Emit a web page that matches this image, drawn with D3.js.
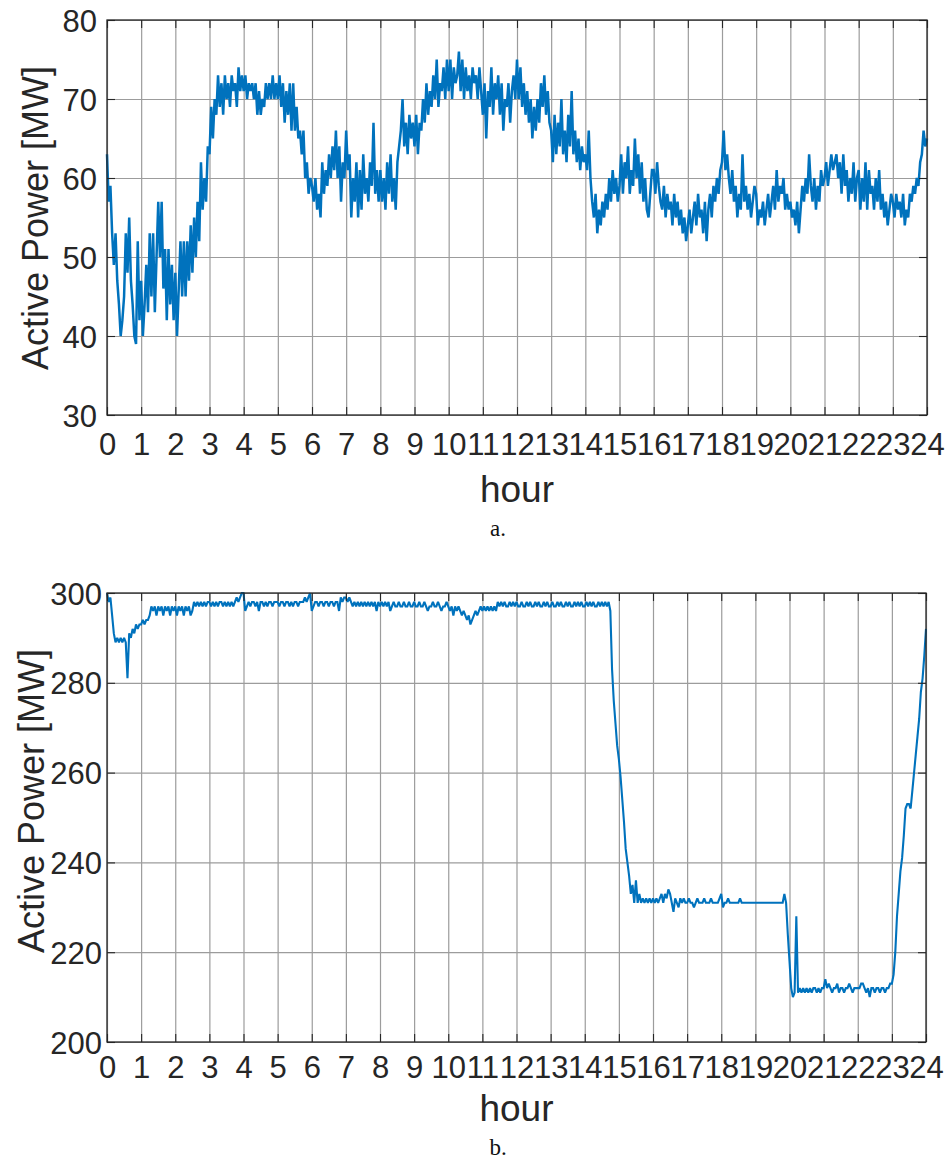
<!DOCTYPE html>
<html>
<head>
<meta charset="utf-8">
<script src="https://cdn.jsdelivr.net/npm/d3@7/dist/d3.min.js"></script>
<style>
  html, body { margin: 0; padding: 0; background: #ffffff; }
  svg { display: block; }
</style>
</head>
<body>
<svg id="fig" width="947" height="1159"></svg>
<script>
// Sampling interval of both recordings, in hours (3 minutes)
const sampleStepHours = 0.05;

// Hour ticks shared by both panels
const hourTicks = [0, 1, 2, 3, 4, 5, 6, 7, 8, 9, 10, 11, 12, 13, 14, 15, 16, 17, 18, 19, 20, 21, 22, 23, 24];

// Panel a: active power [MW], one row per hour
const ticksA = [30, 40, 50, 60, 70, 80];
const powerA = [
  63,57,59,53,49,53,47,44,40,42,45,53,48,55,47,44,40,39,52,42,
  47,40,44,49,43,53,45,53,43,50,57,50,57,46,51,42,51,44,49,42,
  48,40,46,52,45,52,45,52,47,54,48,55,50,57,52,62,56,60,57,64,
  63,69,65,70,68,73,69,72,68,73,70,72,69,73,71,72,69,74,71,73,
  71,73,70,72,71,72,70,72,68,71,68,70,69,72,70,72,70,73,70,72,
  70,73,69,72,67,71,68,72,66,72,66,69,65,66,63,66,60,62,58,60,
  59,57,60,56,58,55,62,58,61,59,63,60,64,61,66,60,64,57,62,60,
  66,61,63,55,60,57,62,55,61,56,63,58,60,57,62,59,67,58,61,57,
  61,57,60,56,62,58,63,57,60,56,62,64,66,70,64,67,63,68,65,67,
  64,68,63,67,66,70,67,72,68,71,69,73,70,75,69,72,71,74,70,75,
  71,75,70,74,72,73,76,71,75,70,74,71,73,70,74,72,73,70,74,71,
  68,72,65,71,69,74,68,72,70,73,68,72,66,70,69,72,67,71,73,70,
  75,70,74,69,72,68,71,67,70,65,69,66,70,67,72,69,73,68,71,67,
  66,62,68,63,67,64,70,63,66,62,68,64,71,63,66,62,65,61,64,62,
  63,61,66,60,57,55,58,53,56,54,57,55,58,56,60,57,61,58,60,57,
  59,63,58,62,60,64,58,61,59,65,60,63,58,62,57,60,56,55,58,61,
  61,58,62,59,57,56,59,55,58,56,57,54,58,55,57,54,56,53,55,52,
  54,56,53,55,57,54,58,55,56,53,57,52,56,58,55,59,57,60,58,61,
  62,66,61,63,60,58,61,57,59,55,58,56,63,57,59,56,58,55,57,59,
  58,54,56,55,57,54,56,58,55,57,59,56,61,57,59,58,60,56,58,56,
  57,55,56,54,57,53,56,59,57,60,58,63,59,57,60,56,59,57,61,59,
  60,62,59,61,63,61,62,63,60,62,58,63,59,61,57,60,58,62,57,60,
  61,56,60,57,62,56,61,58,59,56,60,57,61,56,58,55,57,54,56,58,
  57,55,58,56,57,55,58,54,56,55,58,57,59,58,60,59,62,63,66,64,
  65
];

// Panel b: active power [MW], one row per hour
const ticksB = [200, 220, 240, 260, 280, 300];
const powerB = [
  300,298,299,295,291,289,290,289,290,289,290,289,281,291,290,292,291,293,292,293,
  293,294,293,294,294,295,297,296,297,295,297,296,297,295,297,296,297,295,297,296,
  297,295,297,296,297,295,297,296,297,295,296,298,297,298,297,298,297,298,297,298,
  298,297,298,297,298,297,298,298,297,298,297,298,297,298,297,298,299,298,299,300,
  300,296,297,298,297,298,298,297,298,296,298,298,297,298,297,298,298,297,298,298,
  298,297,298,298,297,298,298,297,298,297,298,298,297,298,298,298,299,298,299,300,
  296,297,298,298,297,298,298,297,298,298,297,298,298,297,298,298,296,299,298,299,
  299,298,299,298,297,298,297,298,297,298,297,298,297,298,297,298,297,298,296,298,
  297,298,297,298,297,298,296,297,298,297,297,298,297,297,298,297,297,298,297,297,
  298,297,297,298,297,297,298,297,296,297,297,298,297,297,298,297,296,297,297,298,
  297,296,297,295,297,296,297,296,295,296,295,294,295,293,294,295,296,295,296,297,
  296,297,296,297,296,297,296,297,296,298,297,298,297,298,297,297,298,297,298,297,
  298,297,297,298,297,297,298,297,298,297,297,298,297,298,297,297,298,297,298,297,
  297,298,297,297,298,297,298,297,297,298,297,298,297,297,298,297,298,297,298,297,
  297,298,297,298,297,298,297,297,298,297,298,297,298,297,298,296,283,276,271,266,
  263,259,254,249,243,240,237,233,235,231,236,231,233,231,232,231,232,231,232,231,
  232,231,232,231,232,233,231,233,232,234,233,231,229,232,231,230,232,231,232,231,
  231,232,231,231,230,231,232,231,231,231,232,231,231,231,232,231,231,231,231,232,
  233,230,231,231,232,231,231,231,231,231,231,232,231,231,231,231,231,231,231,231,
  231,231,231,231,231,231,231,231,231,231,231,231,231,231,231,231,231,233,231,224,
  218,212,210,211,228,211,212,211,212,211,212,211,212,211,212,212,211,212,211,212,
  212,214,212,213,212,211,212,212,213,211,212,212,211,212,212,213,212,211,212,212,
  212,212,213,213,212,211,212,210,212,212,211,212,212,211,212,212,211,212,212,213,
  213,215,220,228,233,238,241,246,252,253,253,252,256,260,264,268,272,278,281,286,
  292
];

const svg = d3.select('#fig');
const INK = '#262626';
const LINE = '#0072BD';
const GRID = '#9c9c9c';
const SANS = '"Liberation Sans", Arial, Helvetica, sans-serif';
const SERIF = '"Liberation Serif", "Times New Roman", serif';

const panels = [
  { values: powerA, ticks: ticksA, domain: [30, 80], caption: 'a.',
    left: 107, right: 927, top: 20, bottom: 415, lineWidth: 2.5,
    yLabelGap: 10, xLabelOffset: 29, hourBaseline: 502, yTitleX: 48, yTitleY: 218, captionBaseline: 536 },
  { values: powerB, ticks: ticksB, domain: [200, 300], caption: 'b.',
    left: 107, right: 926, top: 593, bottom: 1042, lineWidth: 2.1,
    yLabelGap: 5, xLabelOffset: 25, hourBaseline: 1121, yTitleX: 44, yTitleY: 801, captionBaseline: 1155 }
];

panels.forEach(p => {
  const g = svg.append('g');
  const x = d3.scaleLinear().domain([0, 24]).range([p.left, p.right]);
  const y = d3.scaleLinear().domain(p.domain).range([p.bottom, p.top]);
  const h = p.bottom - p.top;
  const w = p.right - p.left;

  // grid lines
  const gridX = g.append('g').attr('transform', `translate(0,${p.bottom})`)
    .call(d3.axisBottom(x).tickValues(hourTicks).tickSize(-h).tickFormat(''));
  const gridY = g.append('g').attr('transform', `translate(${p.left},0)`)
    .call(d3.axisLeft(y).tickValues(p.ticks).tickSize(-w).tickFormat(''));
  [gridX, gridY].forEach(sel => {
    sel.select('.domain').remove();
    sel.selectAll('line').attr('stroke', GRID).attr('stroke-width', 1.2);
  });

  // power trace
  const line = d3.line()
    .x((d, i) => x(i * sampleStepHours))
    .y(d => y(d));
  g.append('path')
    .datum(p.values)
    .attr('fill', 'none')
    .attr('stroke', LINE)
    .attr('stroke-width', p.lineWidth)
    .attr('stroke-linejoin', 'miter')
    .attr('stroke-miterlimit', 2)
    .attr('d', line);

  // inward tick marks on all four sides
  const tickLen = 8;
  const axB = g.append('g').attr('transform', `translate(0,${p.bottom})`)
    .call(d3.axisBottom(x).tickValues(hourTicks).tickSizeInner(-tickLen).tickSizeOuter(0).tickFormat(d3.format('d')));
  const axT = g.append('g').attr('transform', `translate(0,${p.top})`)
    .call(d3.axisTop(x).tickValues(hourTicks).tickSizeInner(-tickLen).tickSizeOuter(0).tickFormat(''));
  const axL = g.append('g').attr('transform', `translate(${p.left},0)`)
    .call(d3.axisLeft(y).tickValues(p.ticks).tickSizeInner(-tickLen).tickSizeOuter(0).tickFormat(d3.format('d')));
  const axR = g.append('g').attr('transform', `translate(${p.right},0)`)
    .call(d3.axisRight(y).tickValues(p.ticks).tickSizeInner(-tickLen).tickSizeOuter(0).tickFormat(''));
  [axB, axT, axL, axR].forEach(sel => {
    sel.select('.domain').remove();
    sel.selectAll('line').attr('stroke', INK).attr('stroke-width', 1.1);
  });

  axB.selectAll('text')
    .attr('y', p.xLabelOffset)
    .attr('dy', '0.36em')
    .attr('fill', INK)
    .style('font-family', SANS)
    .style('font-size', '31px');
  axL.selectAll('text')
    .attr('x', -p.yLabelGap)
    .attr('dy', '0.36em')
    .attr('fill', INK)
    .style('font-family', SANS)
    .style('font-size', '31px');

  // axes box
  g.append('rect')
    .attr('x', p.left).attr('y', p.top)
    .attr('width', w).attr('height', h)
    .attr('fill', 'none')
    .attr('stroke', INK)
    .attr('stroke-width', 1.3);

  // axis titles
  g.append('text')
    .attr('x', (p.left + p.right) / 2)
    .attr('y', p.hourBaseline)
    .attr('text-anchor', 'middle')
    .attr('fill', INK)
    .style('font-family', SANS)
    .style('font-size', '37px')
    .text('hour');
  g.append('text')
    .attr('transform', `translate(${p.yTitleX},${p.yTitleY}) rotate(-90)`)
    .attr('text-anchor', 'middle')
    .attr('fill', INK)
    .style('font-family', SANS)
    .style('font-size', '36px')
    .text('Active Power [MW]');

  // sub-figure caption
  g.append('text')
    .attr('x', 498)
    .attr('y', p.captionBaseline)
    .attr('text-anchor', 'middle')
    .attr('fill', '#111')
    .style('font-family', SERIF)
    .style('font-size', '23px')
    .text(p.caption);
});
</script>
</body>
</html>
